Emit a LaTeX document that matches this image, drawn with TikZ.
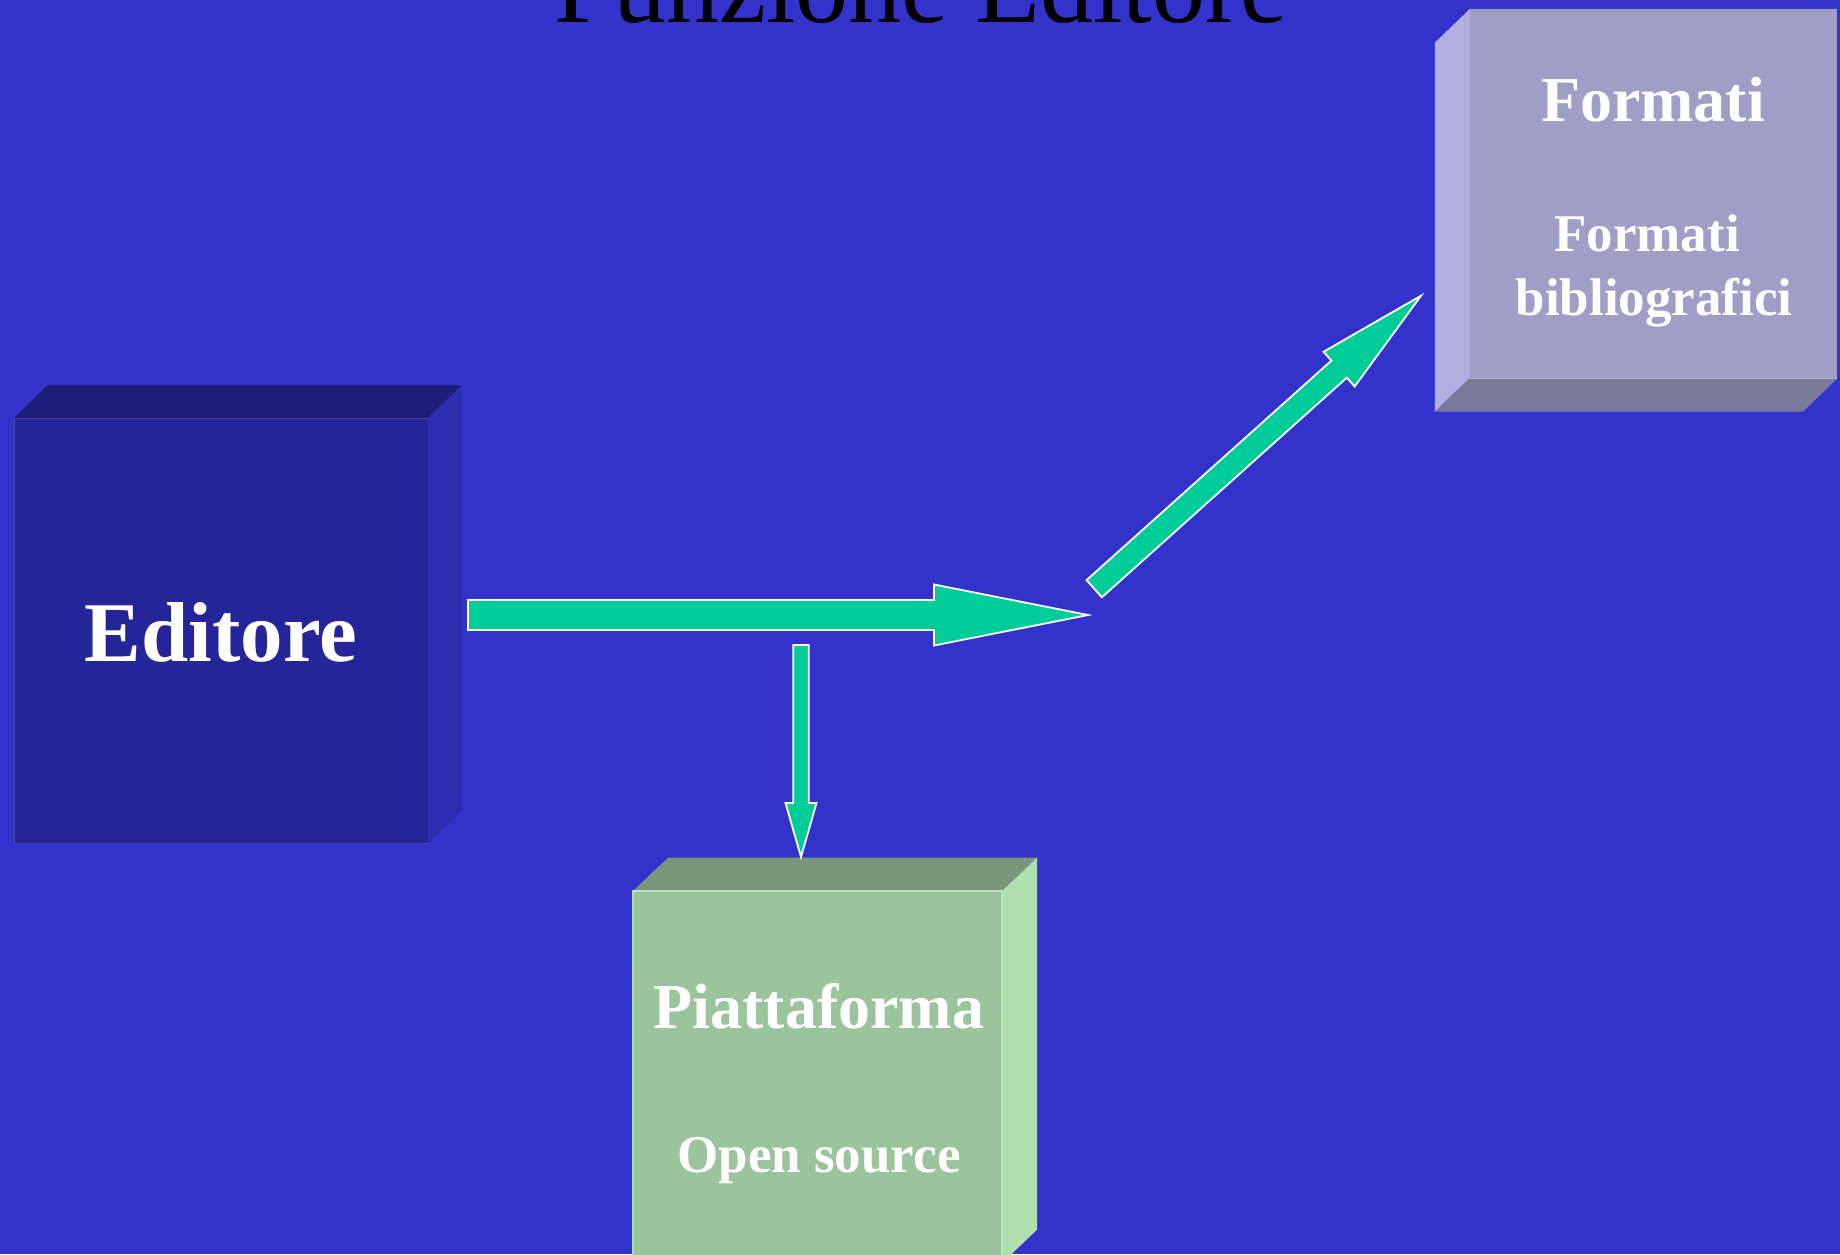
\documentclass[tikz,border=0pt]{standalone}
\usepackage{fontspec}
\setmainfont{Liberation Serif}
\usetikzlibrary{calc}
\definecolor{bg}{HTML}{3333CC}
\definecolor{edFront}{HTML}{25259A}
\definecolor{edTop}{HTML}{1E1E78}
\definecolor{edSide}{HTML}{2C2CB0}
\definecolor{arrowgreen}{HTML}{00CC99}
\definecolor{piFront}{HTML}{9CC49C}
\definecolor{piTop}{HTML}{7A967A}
\definecolor{piSide}{HTML}{B0E0B0}
\definecolor{foFront}{HTML}{9E9EC6}
\definecolor{foSide}{HTML}{B0B0E0}
\definecolor{foBottom}{HTML}{7A7A98}
\tikzset{
  face/.style={inner sep=0pt, outer sep=0pt},
  lbl/.style={anchor=base, inner sep=0pt, text=white},
  blockarrowstyle/.style={fill=arrowgreen, draw=white, line width=1.8pt, line join=miter},
}
% from, to, shaft half width, head half width, head length
\newcommand\myblockarrow[5]{%
  \path ($(#2)!#5!(#1)$) coordinate (hb);
  \draw[blockarrowstyle] ($(#1)!#3!90:(#2)$) -- ($(hb)!#3!90:(#2)$) -- ($(hb)!#4!90:(#2)$) -- (#2)
    -- ($(hb)!#4!-90:(#2)$) -- ($(hb)!#3!-90:(#2)$) -- ($(#1)!#3!-90:(#2)$) -- cycle;}
\begin{document}
\begin{tikzpicture}[x=1pt,y=-1pt]
\useasboundingbox (0,0) rectangle (1840,1254);
\clip (0,0) rectangle (1840,1254);
\fill[bg] (0,0) rectangle (1840,1254);

% title
\node[anchor=base, inner sep=0pt, text=black, font=\fontsize{106}{106}\selectfont] (title) at (921,22.7) {Funzione Editore};

% Editore box
\node[face, fill=edFront, draw=edFront!85!white, line width=1pt, minimum width=414pt, minimum height=425pt] (editore) at (221,630.5) {};
\fill[edTop] (editore.north west) -- ++(34,-33) -- ($(editore.north east)+(34,-33)$) -- (editore.north east) -- cycle;
\fill[edSide] (editore.north east) -- ++(34,-33) -- ($(editore.south east)+(34,-33)$) -- (editore.south east) -- cycle;
\node[lbl, font=\bfseries\fontsize{85}{85}\selectfont] (edlabel) at (221,661) {Editore};

% Piattaforma box
\node[face, fill=piFront, draw=piSide, line width=1.5pt, minimum width=369pt, minimum height=372pt] (piatt) at (817.5,1077) {};
\fill[piTop] (piatt.north west) -- ++(35,-33.3) -- ($(piatt.north east)+(35,-33.3)$) -- (piatt.north east) -- cycle;
\fill[piSide] (piatt.north east) -- ++(35,-33.3) -- ($(piatt.south east)+(35,-33.3)$) -- (piatt.south east) -- cycle;
\draw[piSide!85!white, line width=1.5pt] (piatt.north west) -- (piatt.north east) -- (piatt.south east);
\node[lbl, font=\bfseries\fontsize{64}{64}\selectfont] (pilabel) at (819,1028) {Piattaforma};
\node[lbl, font=\bfseries\fontsize{53}{53}\selectfont] (pisub) at (819,1172) {Open source};

% Formati box
\node[face, fill=foFront, minimum width=368pt, minimum height=369pt] (formati) at (1653.4,193.8) {};
\fill[foSide] (formati.north west) -- ++(-34.5,33.4) -- ($(formati.south west)+(-34.5,33.4)$) -- (formati.south west) -- cycle;
\fill[foBottom] (formati.south west) -- ++(-34.5,33.4) -- ($(formati.south east)+(-34.5,33.4)$) -- (formati.south east) -- cycle;
\draw[foFront!85!white, line width=1.2pt] (formati.north west) -- (formati.south west) -- (formati.south east);
\node[lbl, font=\bfseries\fontsize{64}{64}\selectfont] (folabel) at (1653,121.7) {Formati};
\node[lbl, font=\bfseries\fontsize{53}{53}\selectfont] (fosub1) at (1647,251.7) {Formati};
\node[lbl, font=\bfseries\fontsize{53}{53}\selectfont] (fosub2) at (1654,315) {bibliografici};

% arrows
\coordinate (hstart) at (468,615);
\coordinate (htip) at (1088,615);
\coordinate (vstart) at (801,645);
\coordinate (vtip) at (801,857);
\coordinate (dstart) at (1094.2,588.7);
\coordinate (dtip) at (1421,295.7);
\myblockarrow{hstart}{htip}{15pt}{30.5pt}{154pt}
\myblockarrow{vstart}{vtip}{7.7pt}{15.5pt}{54pt}
\myblockarrow{dstart}{dtip}{11.5pt}{23.3pt}{110pt}
\end{tikzpicture}
\end{document}
